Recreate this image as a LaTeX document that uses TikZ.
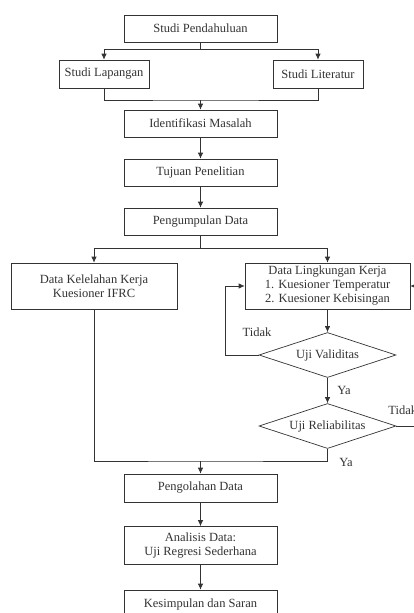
\documentclass[tikz,border=0pt]{standalone}
\usepackage{fontspec}
\setmainfont{Liberation Serif}
\usetikzlibrary{shapes.geometric,arrows.meta}
\begin{document}
\begin{tikzpicture}[x=1pt,y=-1pt,>={Latex[length=6pt,width=5.5pt]},line width=0.7pt,color=black!80,
  every node/.style={font=\fontsize{12.5}{14}\selectfont},
  box/.style={draw,rectangle,minimum width=153pt,minimum height=27pt,inner sep=2pt,align=center},
  dec/.style={draw,diamond,minimum width=137pt,minimum height=45pt,inner sep=0pt,aspect=3},
  lbl/.style={inner sep=0pt}]
\useasboundingbox (0,0) rectangle (413,613);
\node[box] (sp) at (200.5,28.5) {Studi Pendahuluan};
\node[box,minimum width=90pt,minimum height=28pt] (sl) at (104,74) {Studi Lapangan};
\node[box,minimum width=90pt,minimum height=28pt] (slt) at (318,74) {Studi Literatur};
\node[box] (im) at (200.5,123.5) {Identifikasi Masalah};
\node[box] (tp) at (200.5,172.5) {Tujuan Penelitian};
\node[box] (pd) at (200.5,221.5) {Pengumpulan Data};
\node[box,minimum width=166pt,minimum height=46pt] (dk) at (94,286) {Data Kelelahan Kerja\\Kuesioner IFRC};
\node[box,minimum width=165pt,minimum height=46pt] (dl) at (327.5,286) {Data Lingkungan Kerja\\1. Kuesioner Temperatur\\2. Kuesioner Kebisingan};
\node[dec] (uv) at (327.5,355) {Uji Validitas};
\node[dec] (ur) at (327.5,426) {Uji Reliabilitas};
\node[box,minimum height=28pt] (po) at (200.5,488) {Pengolahan Data};
\node[box,minimum height=38pt] (ad) at (200.5,545.5) {Analisis Data:\\Uji Regresi Sederhana};
\node[box,minimum height=28pt] (ks) at (200.5,604) {Kesimpulan dan Saran};
\node[lbl] (t1) at (257,332) {Tidak};
\node[lbl] (y1) at (344,390) {Ya};
\node[lbl,anchor=west] (t2) at (388,410) {Tidak};
\node[lbl] (y2) at (346,462) {Ya};
\coordinate (a) at (200.5,100);
\coordinate (b) at (200.5,248);
\coordinate (c) at (200.5,461);
\coordinate (d) at (440,426);
\draw[->] (sp.south) -- ++(0,7) -| (sl.north);
\draw[->] (sp.south) -- ++(0,7) -| (slt.north);
\draw (sl.south) |- (a) -| (slt.south);
\draw[->] (a) -- (im.north);
\draw[->] (im) -- (tp);
\draw[->] (tp) -- (pd);
\draw (pd.south) -- (b);
\draw[->] (b) -| (dk.north);
\draw[->] (b) -| (dl.north);
\draw[->] (dl) -- (uv);
\draw[->] (uv.west) -- ++(-33,0) |- (dl.west);
\draw[->] (uv) -- (ur);
\draw[->] (ur.east) -- (d) |- (dl.east);
\draw (dk.south) |- (c) -| (ur.south);
\draw[->] (c) -- (po.north);
\draw[->] (po) -- (ad);
\draw[->] (ad) -- (ks);
\end{tikzpicture}
\end{document}
